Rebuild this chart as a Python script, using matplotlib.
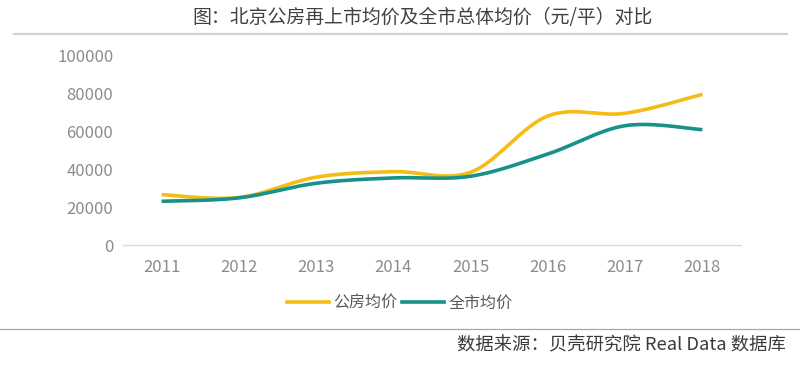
import numpy as np
import matplotlib
matplotlib.use("Agg")
import matplotlib.pyplot as plt
from matplotlib.lines import Line2D

plt.rcParams['font.family'] = ['Noto Sans CJK SC', 'DejaVu Sans']

years = ['2011', '2012', '2013', '2014', '2015', '2016', '2017', '2018']
public_housing = [26500, 25000, 35700, 38600, 38300, 67900, 69300, 79300]
city_avg = [23000, 24800, 32500, 35300, 36200, 47900, 62800, 60700]
y_ticks = [0, 20000, 40000, 60000, 80000, 100000]
series_names = ['公房均价', '全市均价']
title = '图：北京公房再上市均价及全市总体均价（元/平）对比'
source = '数据来源：贝壳研究院 Real Data 数据库'

YELLOW = '#F3BD16'
TEAL = '#17918A'


def catmull_rom(xs, ys, n=30):
    xs = np.asarray(xs, float)
    ys = np.asarray(ys, float)
    P = np.column_stack([xs, ys])
    P = np.vstack([P[0], P, P[-1]])
    out = []
    t = np.linspace(0, 1, n)
    for i in range(1, len(P) - 2):
        p0, p1, p2, p3 = P[i - 1], P[i], P[i + 1], P[i + 2]
        t2 = t * t
        t3 = t2 * t
        seg = 0.5 * ((2 * p1)[None, :] + (-p0 + p2)[None, :] * t[:, None]
                     + (2 * p0 - 5 * p1 + 4 * p2 - p3)[None, :] * t2[:, None]
                     + (-p0 + 3 * p1 - 3 * p2 + p3)[None, :] * t3[:, None])
        out.append(seg if i == 1 else seg[1:])
    out = np.vstack(out)
    return out[:, 0], out[:, 1]


fig = plt.figure(figsize=(8, 3.68), dpi=100)
fig.patch.set_facecolor('white')

ax = fig.add_axes([123 / 800, 1 - 245 / 368, (741 - 123) / 800, (245 - 55) / 368])
x = np.arange(len(years))
for vals, c, name in [(public_housing, YELLOW, series_names[0]), (city_avg, TEAL, series_names[1])]:
    sx, sy = catmull_rom(x, vals)
    ax.plot(sx, sy, color=c, lw=2.6, solid_capstyle='butt', label=name)

ax.set_xlim(-0.5, len(years) - 0.5)
ax.set_ylim(0, 100000)
ax.set_xticks(x)
ax.set_xticklabels(years)
ax.set_yticks(y_ticks)
ax.set_yticklabels([str(v) for v in y_ticks])
for s in ['top', 'right', 'left']:
    ax.spines[s].set_visible(False)
ax.spines['bottom'].set_color('#d9d9d9')
ax.spines['bottom'].set_linewidth(1.0)
ax.tick_params(axis='both', length=0, labelsize=12, labelcolor='#8c8c8c')
ax.tick_params(axis='x', pad=10)
ax.tick_params(axis='y', pad=7)
for lab in ax.get_xticklabels() + ax.get_yticklabels():
    lab.set_fontweight('light')

# title and divider lines
fig.text(423 / 800, 1 - 17 / 368, title, ha='center', va='center', fontsize=13.6, color='#404040')
fig.add_artist(Line2D([14 / 800, 787 / 800], [1 - 33.5 / 368] * 2, color='#d2d2d2', lw=1.6))
fig.add_artist(Line2D([0, 1], [1 - 329 / 368] * 2, color='#a8a8a8', lw=0.9))

# legend
handles = [Line2D([], [], color=YELLOW, lw=2.6), Line2D([], [], color=TEAL, lw=2.6)]
leg = fig.legend(handles, series_names, loc='center', bbox_to_anchor=(400 / 800, 1 - 303 / 368),
                 ncol=2, frameon=False, fontsize=11.5, handlelength=2.6, handletextpad=0.3,
                 columnspacing=0.3, labelcolor='#595959')

fig.text(786 / 800, 1 - 345 / 368, source, ha='right', va='center', fontsize=13.2, color='#3a3a3a')

fig.savefig('out.png', dpi=100, facecolor='white')
